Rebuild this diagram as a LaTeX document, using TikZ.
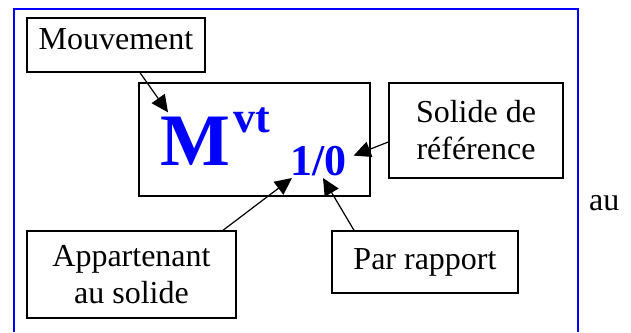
\documentclass[tikz,border=0pt]{standalone}
\usepackage{fontspec}
\setmainfont{Liberation Serif}
\usetikzlibrary{arrows.meta,calc}
\begin{document}
\begin{tikzpicture}[x=1pt,y=1pt,
  box/.style={draw=black,line width=1.4pt,inner sep=0pt,align=center,
    font=\fontsize{32}{37}\selectfont},
  big/.style={inner sep=0pt,text=blue,font=\fontsize{74}{74}\selectfont\bfseries},
  small/.style={inner sep=0pt,text=blue,font=\fontsize{44}{44}\selectfont\bfseries},
  arr/.style={line width=1.2pt,-{Triangle[length=17pt,width=16pt]}}]
\useasboundingbox (0,0) rectangle (631,-332);
\draw[blue,line width=1.3pt] (14,-332) -- (14,-9) -- (578,-9) -- (578,-332);
\node[box,minimum width=178,minimum height=54,text depth=12pt] (mouv) at (116,-45) {Mouvement};
\node[box,minimum width=231,minimum height=113] (main) at (254.5,-139.5) {};
\node[big,anchor=base west] (M) at (160,-165) {M};
\node[small,anchor=base west] (vt) at (233,-132) {vt};
\node[small,anchor=base west] (sub) at (290,-175) {1/0};
\node[box,minimum width=174,minimum height=95] (sol) at (476,-130.5) {Solide de\\référence};
\node[box,minimum width=209,minimum height=87] (app) at (131.5,-274.5) {Appartenant\\au solide};
\node[box,minimum width=186,minimum height=62] (par) at (425,-262) {Par rapport};
\node[inner sep=0pt,anchor=base west,font=\fontsize{32}{37}\selectfont] (au) at (589,-210) {au};
\draw[arr] ($(mouv.south)+(24,0)$) -- ($(M.north west)+(8,4)$);
\draw[arr] ($(sol.west)+(0,-11.5)$) -- ($(sub.east)+(7,5)$);
\draw[arr] ($(app.north)+(91.5,0)$) -- ($(sub.base west)+(2,-3)$);
\draw[arr] ($(par.north)+(-71,0)$) -- ($(sub.base west)+(33,-3)$);
\end{tikzpicture}
\end{document}
